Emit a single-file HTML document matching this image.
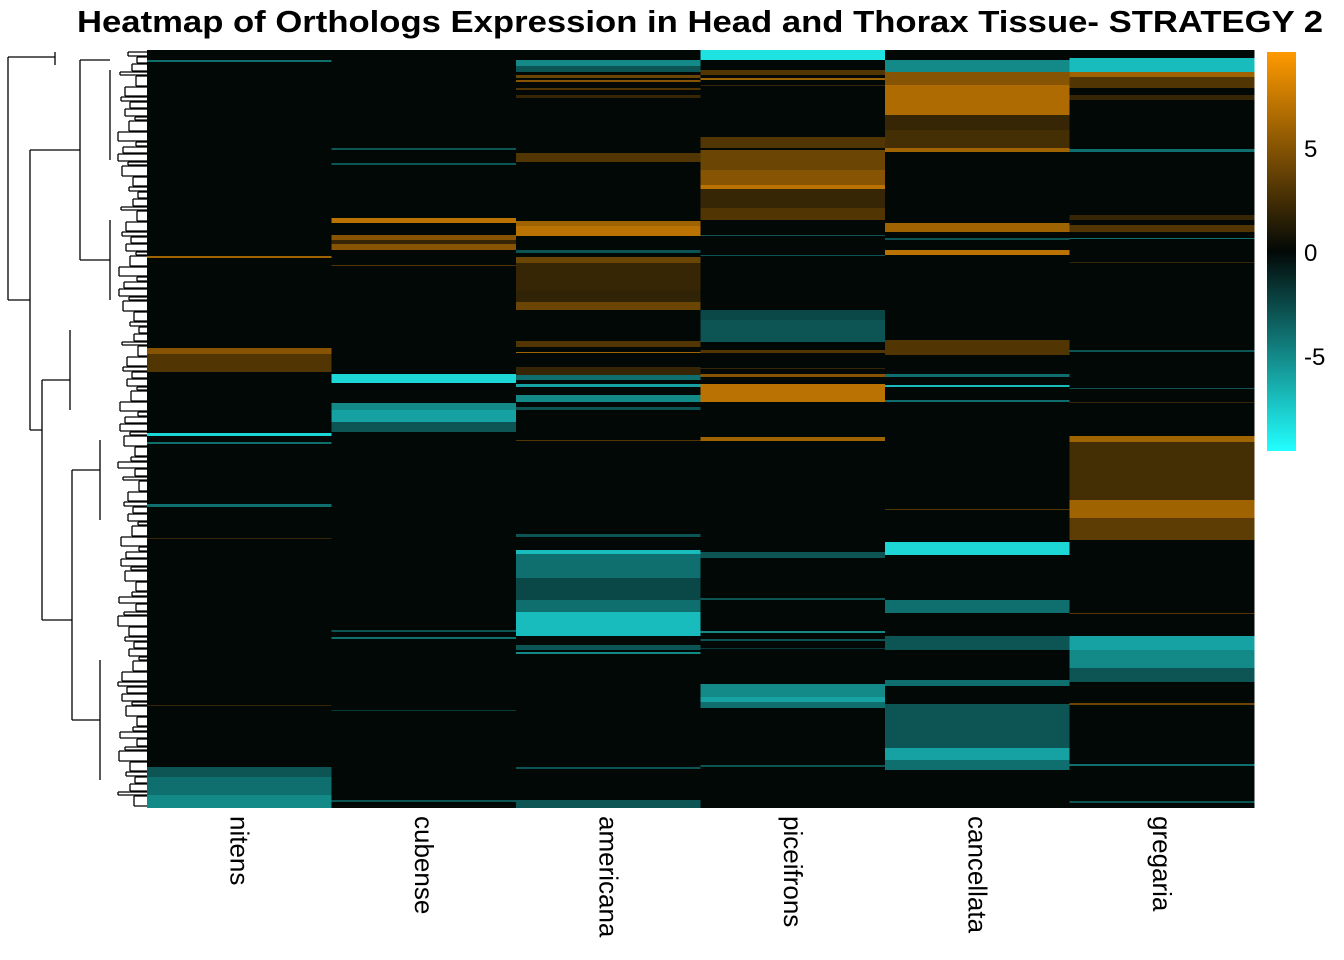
<!DOCTYPE html>
<html><head><meta charset="utf-8"><style>
body{margin:0;background:#fff;}
svg{display:block;font-family:"Liberation Sans",Arial,sans-serif;}
</style></head><body>
<svg id="chart" width="1344" height="960" xmlns="http://www.w3.org/2000/svg">
<text x="700" y="32" text-anchor="middle" font-size="31" font-weight="bold" textLength="1246" lengthAdjust="spacingAndGlyphs">Heatmap of Orthologs Expression in Head and Thorax Tissue- STRATEGY 2</text>
<g id="cells"></g>
<g id="dendro" fill="none" stroke="#000" stroke-width="1.3"></g>
<g id="xlabels"></g>
<defs><linearGradient id="cbg" x1="0" y1="1" x2="0" y2="0">
<stop offset="0" stop-color="#22ffff"/><stop offset="0.5" stop-color="#020806"/><stop offset="1" stop-color="#ff9a00"/>
</linearGradient></defs>
<rect x="1267" y="52" width="29" height="399" fill="url(#cbg)"/>
<g id="cticks"></g>
</svg>
<script>
const columns = ["nitens","cubense","americana","piceifrons","cancellata","gregaria"];
const nRows = 758;
// bands: [startRow, endRow, value]
const nitens = [[10,12,-4],[206,208,6],[298,304,5],[304,322,3],[383,386,-8],[392,394,-4],[454,457,-4],[488,489,2],[655,656,2],[717,727,-3],[727,745,-4],[745,758,-5]];
const cubense = [[98,100,-3],[113,115,-3],[168,173,7],[185,190,5],[190,194,2],[194,200,5],[215,216,3],[324,333,-8],[353,360,-5],[360,372,-6],[372,382,-3],[580,582,-3],[587,589,-4],[660,661,-2],[750,752,-3]];
const americana = [[10,16,-5],[16,22,-3],[25,28,4],[30,32,5],[38,40,3],[45,48,2],[103,112,3],[171,176,6],[176,186,7],[200,203,-3],[207,213,4],[213,240,2],[240,252,1.8],[252,260,4],[291,297,3],[302,303,6],[317,325,2],[325,330,-4],[334,337,-6],[345,352,-5],[357,360,-3],[390,391,3],[484,487,-3],[500,504,-7],[504,528,-4],[528,550,-2.5],[550,562,-4],[562,586,-7],[595,600,-3],[602,604,-5],[717,719,-3],[750,758,-3]];
const piceifrons = [[0,10,-8.5],[20,25,3],[28,30,6],[35,36,2],[87,98,3],[100,120,4],[120,135,5],[135,139,7],[139,158,2],[158,170,3],[185,186,-3],[205,206,-3],[260,270,-2.5],[270,292,-3],[300,303,3],[318,319,2],[324,327,5],[334,352,7],[387,391,6],[502,508,-3],[548,550,-3],[581,583,-5],[589,591,-3],[598,599,-2],[634,647,-5],[647,652,-6],[652,658,-4],[715,717,-3]];
const cancellata = [[10,22,-5],[22,35,5],[35,65,6.5],[65,80,2],[80,98,2.5],[98,102,6],[173,182,6],[188,190,-3],[200,205,7],[290,305,3],[324,327,-4],[335,337,-7],[350,352,-4],[459,460,3],[492,505,-8],[550,563,-4],[586,600,-3],[630,636,-4],[654,698,-3],[698,710,-6],[710,720,-4]];
const gregaria = [[8,22,-7],[22,27,6],[27,38,3],[45,50,2],[99,102,-4],[165,170,2],[175,182,3],[188,189,-4],[212,213,2],[300,302,-3],[338,339,-3],[352,353,2],[386,392,6],[392,450,2.5],[450,468,6],[468,490,3.5],[563,564,3],[586,600,-6],[600,618,-5],[618,632,-3],[653,655,4],[714,716,-4],[751,753,-3]];
const seriesList = [nitens,cubense,americana,piceifrons,cancellata,gregaria];
const tickValues = [5,0,-5];

const X0=147, X1=1254, Y0=50, Y1=808, VMAX=9.6;
const colW=(X1-X0)/columns.length;
const xPos=i=>X0+i*colW;
const yPos=r=>Y0+r*(Y1-Y0)/nRows;
const cbY=v=>252-v*(200/VMAX);
function color(v){
  const t=Math.min(1,Math.abs(v)/VMAX);
  const b=[2,8,6], hi=v>0?[255,154,0]:[34,255,255];
  const c=b.map((x,k)=>Math.round(x+(hi[k]-x)*t));
  return `rgb(${c[0]},${c[1]},${c[2]})`;
}
const NS="http://www.w3.org/2000/svg";
const cells=document.getElementById('cells');
columns.forEach((name,i)=>{
  const bg=document.createElementNS(NS,'rect');
  
  
  bg.setAttribute('x',xPos(i));bg.setAttribute('y',Y0);
  bg.setAttribute('width',colW+0.5);bg.setAttribute('height',Y1-Y0);
  bg.setAttribute('fill',color(0));
  cells.appendChild(bg);
  seriesList[i].forEach(b=>{
    const r=document.createElementNS(NS,'rect');
    
    
    r.setAttribute('x',xPos(i));r.setAttribute('y',yPos(b[0]));
    r.setAttribute('width',colW+0.5);r.setAttribute('height',Math.max(1,yPos(b[1])-yPos(b[0])));
    r.setAttribute('fill',color(b[2]));
    cells.appendChild(r);
  });
  const t=document.createElementNS(NS,'text');
  
  
  const cx=xPos(i)+colW/2;
  t.setAttribute('transform',`translate(${cx-9},816) rotate(90)`);
  t.setAttribute('font-size','26');
  t.textContent=name;
  document.getElementById('xlabels').appendChild(t);
});
tickValues.forEach(v=>{
  const t=document.createElementNS(NS,'text');
  
  
  t.setAttribute('x',1304);t.setAttribute('y',cbY(v)+9);
  t.setAttribute('font-size','24');
  t.textContent=String(v);
  document.getElementById('cticks').appendChild(t);
});
// dendrogram (decorative structure)
const d=document.getElementById('dendro');
let p="M8,57 V300 M8,57 H55 M8,300 H30 M30,150 V430 M30,150 H80 M30,430 H42 M42,380 V620 M42,380 H70 M42,620 H72 M72,470 V720 M72,470 H100 M72,720 H100 M100,660 V780 M100,440 V520 M70,330 V410 M55,52 V65 M80,60 V260 M80,60 H110 M80,260 H110 M110,220 V300 M110,70 V160";
let y=52;
while(y<806){const x=118+((y*37)%22);const h=3+((y*13)%9);p+=` M${x},${y} V${y+h} M${x},${y} H147 M${x},${y+h} H147`;y+=h+1;}
const path=document.createElementNS(NS,'path');


path.setAttribute('d',p);
d.appendChild(path);
</script>
</body></html>
